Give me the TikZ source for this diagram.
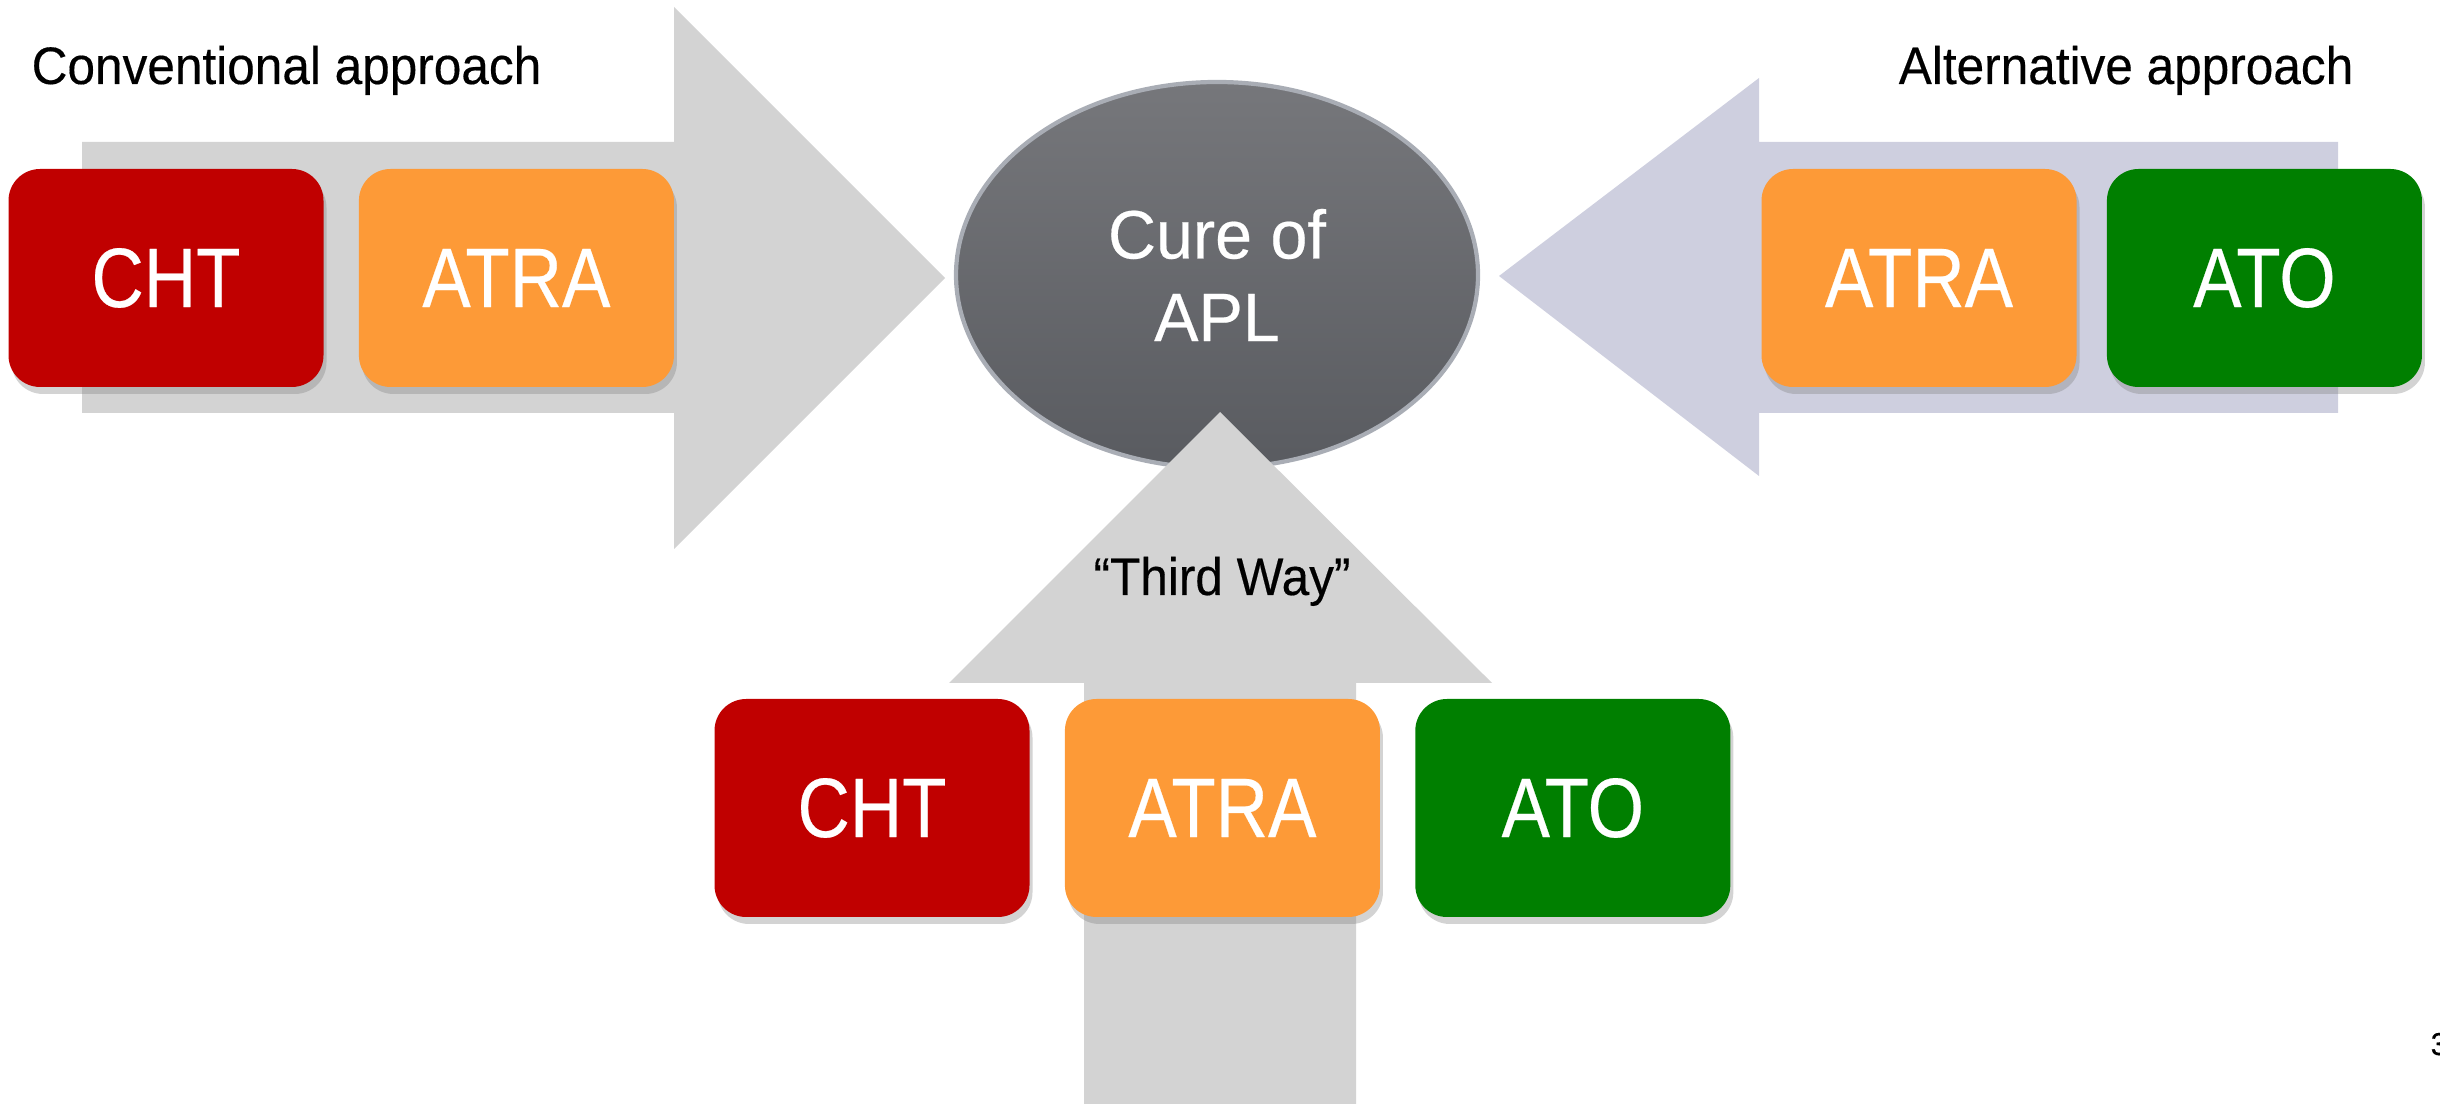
\documentclass[tikz,border=0pt]{standalone}
\usepackage{fontspec}
\setmainfont{Liberation Sans}[FakeStretch=0.94,FakeBold=0.3]
\newfontfamily\boxfont{Liberation Sans}[FakeStretch=0.86,FakeBold=0.3]
\newfontfamily\goalfont{Liberation Sans}[FakeStretch=0.97,FakeBold=0.3]
\usepackage{tikz}
\usetikzlibrary{positioning,shapes.geometric,shadows}
\usepackage{xcolor}
\definecolor{DrugRed}{HTML}{C00000}
\definecolor{DrugOrange}{HTML}{FD9A37}
\definecolor{DrugGreen}{HTML}{007F00}
\definecolor{ArrowGrey}{HTML}{D3D3D3}
\definecolor{ArrowLilac}{HTML}{CECFDF}
\definecolor{GoalTop}{HTML}{76777B}
\definecolor{GoalBottom}{HTML}{595B60}
\definecolor{GoalRim}{HTML}{A9ADB5}
\tikzset{
  drugbox/.style={rounded corners=9pt,minimum width=3.15cm,minimum height=2.18cm,inner sep=0pt,text=white,font=\boxfont\fontsize{24}{28}\selectfont,drop shadow={opacity=0.35,shadow xshift=0.03cm,shadow yshift=-0.07cm}},
  chtbox/.style={drugbox,fill=DrugRed},
  atrabox/.style={drugbox,fill=DrugOrange},
  atobox/.style={drugbox,fill=DrugGreen},
  goal/.style={ellipse,minimum width=5.22cm,minimum height=3.86cm,inner sep=0pt,top color=GoalTop,bottom color=GoalBottom,draw=GoalRim,line width=1.2pt,align=center,text=white,font=\goalfont\fontsize{19.5}{23.5}\selectfont},
  heading/.style={inner sep=0pt,font=\fontsize{15}{18}\selectfont},
  pagenote/.style={inner sep=0pt,font=\fontsize{9}{10}\selectfont}
}

\begin{document}
\begin{tikzpicture}
  \useasboundingbox (0,0) rectangle (24.4,-11.04);
  % arrows
  \fill[ArrowGrey] (0.82,-1.42) -- (6.74,-1.42) -- (6.74,-0.07) -- (9.45,-2.78) -- (6.74,-5.49) -- (6.74,-4.13) -- (0.82,-4.13) -- cycle;
  \fill[ArrowLilac] (23.38,-1.42) -- (17.59,-1.42) -- (17.59,-0.78) -- (14.99,-2.76) -- (17.59,-4.76) -- (17.59,-4.13) -- (23.38,-4.13) -- cycle;
  \node[goal] (cure) at (12.17,-2.75) {Cure of\\APL};
  \fill[ArrowGrey] (10.84,-11.04) -- (10.84,-6.83) -- (9.49,-6.83) -- (12.20,-4.12) -- (14.92,-6.83) -- (13.56,-6.83) -- (13.56,-11.04) -- cycle;

  \node[heading,anchor=base west] (conv) at (0.31,-0.84) {Conventional approach};
  \node[heading,anchor=base east] (alt) at (23.54,-0.84) {Alternative approach};
  \node[heading,anchor=base] (third) at (12.22,-5.95) {“Third Way”};

  \node[chtbox] (cht1) at (1.66,-2.78) {CHT};
  \node[atrabox,right=0.34cm of cht1] (atra1) {ATRA};
  \node[atrabox] (atra2) at (19.19,-2.78) {ATRA};
  \node[atobox,right=0.29cm of atra2] (ato2) {ATO};
  \node[chtbox] (cht3) at (8.72,-8.08) {CHT};
  \node[atrabox,right=0.34cm of cht3] (atra3) {ATRA};
  \node[atobox,right=0.34cm of atra3] (ato3) {ATO};

  \node[pagenote,anchor=base west] (page) at (24.30,-10.55) {3};
\end{tikzpicture}
\end{document}
